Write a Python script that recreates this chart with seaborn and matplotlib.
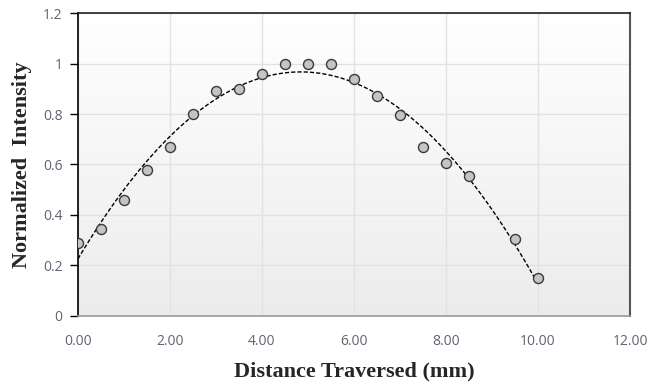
import numpy as np
import pandas as pd
import matplotlib.pyplot as plt
import seaborn as sns
from matplotlib.colors import LinearSegmentedColormap

# measured intensity along the traverse
distance = [0.0, 0.5, 1.0, 1.5, 2.0, 2.5, 3.0, 3.5, 4.0, 4.5, 5.0, 5.5,
            6.0, 6.5, 7.0, 7.5, 8.0, 8.5, 9.5, 10.0]
intensity = [0.29, 0.345, 0.46, 0.58, 0.67, 0.80, 0.89, 0.90, 0.96, 1.0, 1.0, 1.0,
             0.94, 0.87, 0.795, 0.67, 0.605, 0.555, 0.305, 0.15]

x_ticks = [0, 2, 4, 6, 8, 10, 12]
y_ticks = [0, 0.2, 0.4, 0.6, 0.8, 1.0, 1.2]

df = pd.DataFrame({'distance': distance, 'intensity': intensity})

sns.set_style("white")
plt.rcParams['font.family'] = ['Open Sans', 'DejaVu Sans']

fig = plt.figure(figsize=(6.66, 3.83), dpi=100)
ax = fig.add_axes([0.117, 0.175, 0.829, 0.791])

# soft white-to-grey background like the spreadsheet plot area
grad = np.linspace(0, 1, 256).reshape(-1, 1)
cmap = LinearSegmentedColormap.from_list('bg', ['#ffffff', '#ececec'])
ax.imshow(grad, aspect='auto', cmap=cmap, extent=[0, 1, 0, 1],
          transform=ax.transAxes, zorder=0)

# quadratic trend line
sns.regplot(data=df, x='distance', y='intensity', order=2, ci=None, scatter=False,
            line_kws={'color': 'black', 'lw': 1.0, 'ls': (0, (3, 1.5))}, ax=ax)
sns.scatterplot(data=df, x='distance', y='intensity', s=52, color='#c4c4c4',
                edgecolor='#3a3a3a', linewidth=1.0, zorder=4, ax=ax)

ax.set_xlim(0, 12)
ax.set_ylim(0, 1.2)
ax.set_xticks(x_ticks)
ax.set_xticklabels([f'{v:.2f}' for v in x_ticks])
ax.set_yticks(y_ticks)
ax.set_yticklabels(['0', '0.2', '0.4', '0.6', '0.8', '1', '1.2'])
ax.grid(True, color='#e2e2e2', lw=1.0, zorder=1)
ax.set_axisbelow(True)

ax.tick_params(axis='y', length=6, width=1, color='black', labelsize=10,
               labelcolor='#5f6470', direction='out', left=True, pad=5)
ax.tick_params(axis='x', length=0, labelsize=10, labelcolor='#5f6470', pad=13)

ax.spines['left'].set_color('black')
ax.spines['left'].set_linewidth(1.2)
ax.spines['top'].set_color('#222222')
ax.spines['top'].set_linewidth(1.2)
ax.spines['right'].set_color('#555555')
ax.spines['right'].set_linewidth(1.5)
ax.spines['bottom'].set_color('#999999')
ax.spines['bottom'].set_linewidth(1.2)

ax.set_xlabel('Distance Traversed (mm)', family='Liberation Serif', fontweight='bold',
              fontsize=16, labelpad=9)
ax.set_ylabel('Normalized  Intensity', family='Liberation Serif', fontweight='bold',
              fontsize=16, labelpad=8)

fig.savefig('out.png', dpi=100)
